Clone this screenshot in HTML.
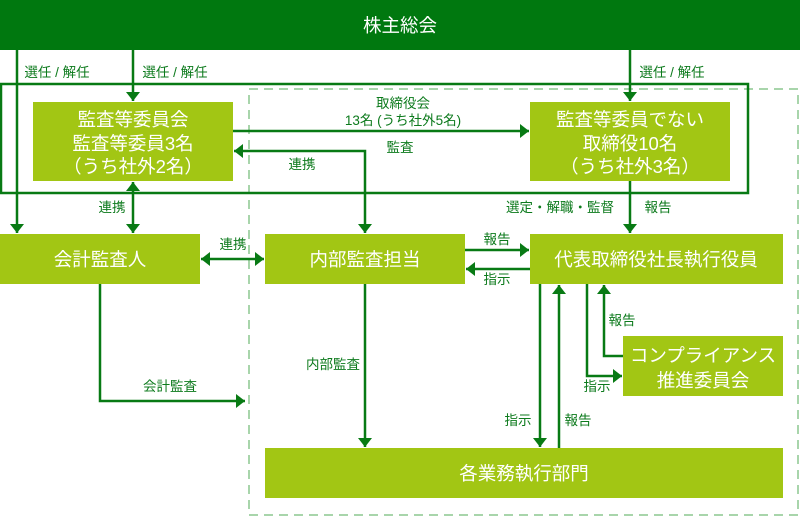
<!DOCTYPE html>
<html><head><meta charset="utf-8"><style>
body{margin:0;background:#fff}
svg text{font-family:"Liberation Sans","Noto Sans CJK JP",sans-serif}
.w{fill:#fff;font-size:18.5px;text-anchor:middle}
.l{fill:#0c7a1c;font-size:13.5px;text-anchor:middle}
</style></head><body>
<svg width="800" height="519" viewBox="0 0 800 519" xmlns="http://www.w3.org/2000/svg">
<defs>
<marker id="a" viewBox="-1 -8 11 16" refX="9" refY="0" markerWidth="11" markerHeight="16" markerUnits="userSpaceOnUse" orient="auto-start-reverse"><path d="M0,-7L9,0L0,7z" fill="#087a14"/></marker>
</defs>
<rect x="249" y="89" width="549" height="426" fill="none" stroke="#a8d5ab" stroke-width="2" stroke-dasharray="9,6"/>
<rect x="0" y="0" width="800" height="50" fill="#00780f"/>
<text class="w" x="400" y="32">株主総会</text>
<g stroke="#087a14" stroke-width="2.5" fill="none">
<rect x="1" y="84" width="747" height="109"/>
<line x1="17" y1="50" x2="17" y2="233" marker-end="url(#a)"/>
<line x1="133" y1="50" x2="133" y2="101" marker-end="url(#a)"/>
<line x1="630" y1="50" x2="630" y2="101" marker-end="url(#a)"/>
<line x1="233" y1="131" x2="529" y2="131" marker-end="url(#a)"/>
<polyline points="234,151 365,151 365,233" marker-start="url(#a)" marker-end="url(#a)"/>
<line x1="133" y1="182" x2="133" y2="233" marker-start="url(#a)" marker-end="url(#a)"/>
<line x1="201" y1="259" x2="264" y2="259" marker-start="url(#a)" marker-end="url(#a)"/>
<line x1="630" y1="181" x2="630" y2="233" marker-end="url(#a)"/>
<line x1="465" y1="250" x2="529" y2="250" marker-end="url(#a)"/>
<line x1="530" y1="269" x2="466" y2="269" marker-end="url(#a)"/>
<line x1="540" y1="284" x2="540" y2="447" marker-end="url(#a)"/>
<line x1="559" y1="448" x2="559" y2="285" marker-end="url(#a)"/>
<polyline points="587,284 587,376 622,376" marker-end="url(#a)"/>
<polyline points="623,356 604,356 604,285" marker-end="url(#a)"/>
<polyline points="100,284 100,401 245,401" marker-end="url(#a)"/>
<line x1="365" y1="284" x2="365" y2="447" marker-end="url(#a)"/>
</g>
<g fill="#a2c614">
<rect x="33" y="102" width="200" height="79"/>
<rect x="530" y="102" width="200" height="79"/>
<rect x="0" y="234" width="200" height="50"/>
<rect x="265" y="234" width="200" height="50"/>
<rect x="530" y="234" width="253" height="50"/>
<rect x="623" y="336" width="160" height="60"/>
<rect x="265" y="448" width="518" height="50"/>
</g>
<text class="w" x="133" y="126">監査等委員会</text>
<text class="w" x="133" y="150">監査等委員3名</text>
<text class="w" x="133" y="173">（うち社外2名）</text>
<text class="w" x="630" y="126">監査等委員でない</text>
<text class="w" x="630" y="150">取締役10名</text>
<text class="w" x="630" y="173">（うち社外3名）</text>
<text class="w" x="100" y="266">会計監査人</text>
<text class="w" x="365" y="266">内部監査担当</text>
<text class="w" x="656" y="266">代表取締役社長執行役員</text>
<text class="w" x="703" y="362">コンプライアンス</text>
<text class="w" x="703" y="387">推進委員会</text>
<text class="w" x="524" y="480">各業務執行部門</text>
<text class="l" x="57" y="77">選任 / 解任</text>
<text class="l" x="175" y="77">選任 / 解任</text>
<text class="l" x="672" y="77">選任 / 解任</text>
<text class="l" x="403" y="108">取締役会</text>
<text class="l" x="403" y="125">13名 (うち社外5名)</text>
<text class="l" x="400" y="152">監査</text>
<text class="l" x="302" y="169">連携</text>
<text class="l" x="112" y="212">連携</text>
<text class="l" x="233" y="249">連携</text>
<text class="l" x="560" y="212">選定・解職・監督</text>
<text class="l" x="658" y="212">報告</text>
<text class="l" x="497" y="244">報告</text>
<text class="l" x="497" y="284">指示</text>
<text class="l" x="622" y="325">報告</text>
<text class="l" x="597" y="391">指示</text>
<text class="l" x="518" y="425">指示</text>
<text class="l" x="578" y="425">報告</text>
<text class="l" x="170" y="391">会計監査</text>
<text class="l" x="333" y="369">内部監査</text>
</svg>
</body></html>
